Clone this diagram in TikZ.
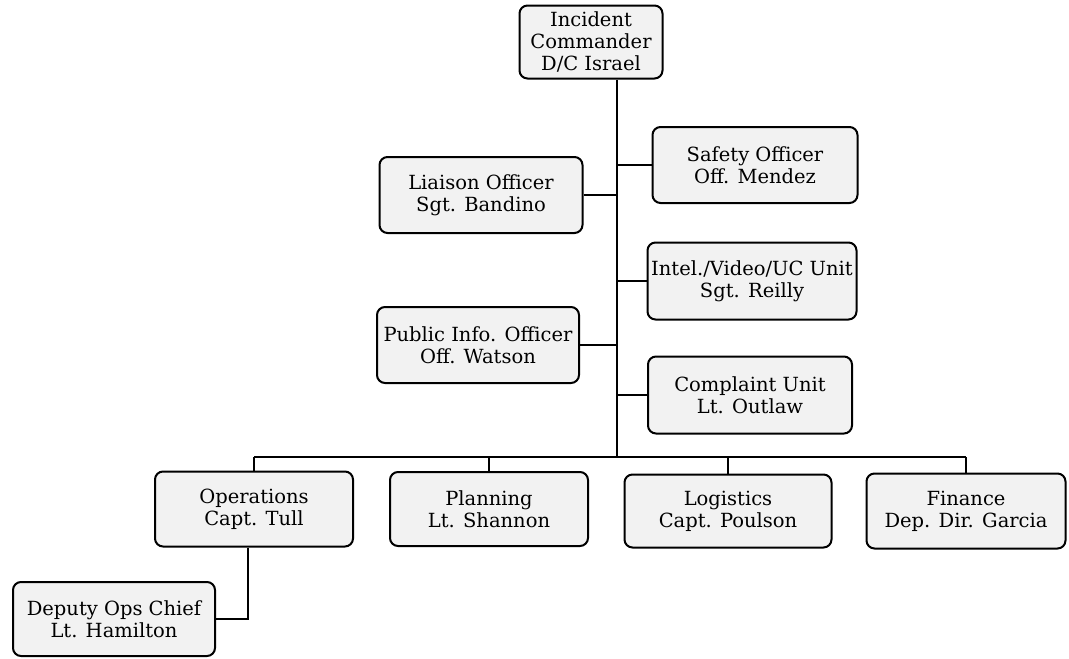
\documentclass[tikz,border=0pt]{standalone}
\usepackage{fontspec}
\setmainfont{DejaVu Serif}
\begin{document}
\begin{tikzpicture}[x=1pt,y=-1pt,
  box/.style={draw=black, line width=2pt, rounded corners=8pt, fill=black!5,
    align=center, inner sep=0pt, font=\fontsize{19.5}{22}\selectfont},
  link/.style={draw=black, line width=1.5pt}]
\useasboundingbox (0,0) rectangle (1069,659);
\fill[white] (0,0) rectangle (1069,659);
\node[box, minimum width=143pt, minimum height=73pt] (ic) at (591,42) {Incident\\Commander\\D/C Israel};
\node[box, minimum width=203pt, minimum height=76pt] (liaison) at (481,195) {Liaison Officer\\Sgt. Bandino};
\node[box, minimum width=205pt, minimum height=76pt] (safety) at (755,165) {Safety Officer\\Off. Mendez};
\node[box, minimum width=209pt, minimum height=77pt] (intel) at (752,281) {Intel./Video/UC Unit\\Sgt. Reilly};
\node[box, minimum width=202pt, minimum height=76pt] (pio) at (478,345) {Public Info. Officer\\Off. Watson};
\node[box, minimum width=204pt, minimum height=77pt] (complaint) at (750,395) {Complaint Unit\\Lt. Outlaw};
\node[box, minimum width=198pt, minimum height=75pt] (ops) at (254,509) {Operations\\Capt. Tull};
\node[box, minimum width=198pt, minimum height=74pt] (planning) at (489,509) {Planning\\Lt. Shannon};
\node[box, minimum width=207pt, minimum height=73pt] (logistics) at (728,511) {Logistics\\Capt. Poulson};
\node[box, minimum width=199pt, minimum height=75pt] (finance) at (966,511) {Finance\\Dep. Dir. Garcia};
\node[box, minimum width=202pt, minimum height=74pt] (deputy) at (114,619) {Deputy Ops Chief\\Lt. Hamilton};
\coordinate (bus) at (617,457);
\draw[link] (ic.south -| bus) -- (bus);
\draw[link] (liaison.east) -- (liaison.east -| bus);
\draw[link] (pio.east) -- (pio.east -| bus);
\draw[link] (safety.west) -- (safety.west -| bus);
\draw[link] (intel.west) -- (intel.west -| bus);
\draw[link] (complaint.west) -- (complaint.west -| bus);
\draw[link] (ops.north |- bus) -- (finance.north |- bus);
\draw[link] (ops.north) -- (ops.north |- bus);
\draw[link] (planning.north) -- (planning.north |- bus);
\draw[link] (logistics.north) -- (logistics.north |- bus);
\draw[link] (finance.north) -- (finance.north |- bus);
\draw[link] ([xshift=-6pt]ops.south) |- (deputy.east);
\end{tikzpicture}
\end{document}
